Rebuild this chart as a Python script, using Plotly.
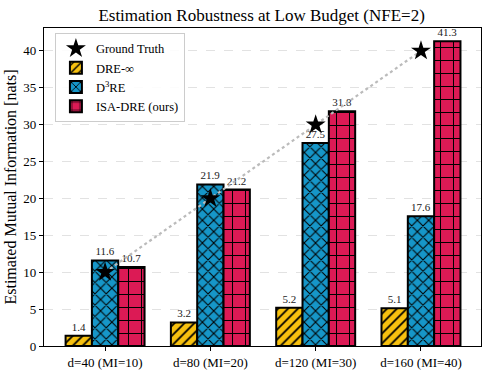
import plotly.graph_objects as go

categories = ["d=40 (MI=10)", "d=80 (MI=20)", "d=120 (MI=30)", "d=160 (MI=40)"]
ground_truth = [10, 20, 30, 40]
dre_inf = [1.4, 3.2, 5.2, 5.1]
d3re = [11.6, 21.9, 27.5, 17.6]
isa_dre = [10.7, 21.2, 31.8, 41.3]
y_ticks = [0, 5, 10, 15, 20, 25, 30, 35, 40]

FONT = "Liberation Serif"

x_idx = list(range(len(categories)))
offsets = [-0.25, 0.0, 0.25]

fig = go.Figure()

# dotted ground-truth connecting line
fig.add_trace(go.Scatter(
    x=x_idx, y=ground_truth, mode="lines",
    line=dict(color="#bbbbbb", width=2.2, dash="dot"),
    showlegend=False, hoverinfo="skip"))

series = [
    ("DRE-∞", dre_inf, "#f7c10f", "/", 7, 0.25),
    ("D<sup>3</sup>RE", d3re, "#1696c8", "x", 8, 0.25),
    ("ISA-DRE (ours)", isa_dre, "#dc1a55", "+", 13, 0.15),
]

for (name, vals, col, shp, psize, sol), off in zip(series, offsets):
    fig.add_trace(go.Bar(
        x=[i + off for i in x_idx], y=vals, name=name, width=0.25,
        marker=dict(color=col, line=dict(color="black", width=2),
                    pattern=dict(shape=shp, fgcolor="black", bgcolor=col,
                                 size=psize, solidity=sol, fillmode="replace")),
        text=[f"{v:.1f}" for v in vals], textposition="outside",
        textfont=dict(family=FONT, size=11, color="#222"),
        cliponaxis=False))

fig.add_trace(go.Scatter(
    x=x_idx, y=ground_truth, mode="markers", name="Ground Truth",
    marker=dict(symbol="star", size=15, color="black"),
    legendrank=1))

fig.update_layout(
    width=489, height=373,
    margin=dict(l=44, r=8, t=28, b=27),
    paper_bgcolor="white", plot_bgcolor="white",
    font=dict(family=FONT, size=12, color="black"),
    title=dict(text="Estimation Robustness at Low Budget (NFE=2)",
               x=0.535, xanchor="center", y=0.975, yanchor="top",
               font=dict(family=FONT, size=17, color="black")),
    barmode="overlay",
    showlegend=True,
    legend=dict(x=0.025, y=0.985, xanchor="left", yanchor="top",
                bgcolor="rgba(255,255,255,0.9)", bordercolor="#cccccc",
                borderwidth=1, font=dict(family=FONT, size=12.5),
                traceorder="normal", itemwidth=30, tracegroupgap=0),
    xaxis=dict(range=[-0.58, 3.57], tickmode="array", tickvals=x_idx,
               ticktext=categories, showgrid=False, showline=True,
               linecolor="black", linewidth=1.2, mirror=True,
               ticks="outside", ticklen=4, tickcolor="black",
               tickfont=dict(family=FONT, size=13), zeroline=False,
               automargin=False),
    yaxis=dict(range=[0, 43.1], tickmode="array", tickvals=y_ticks,
               showgrid=True, gridcolor="#e2e2e2", griddash="dash",
               gridwidth=0.7, showline=True, linecolor="black",
               linewidth=1.2, mirror=True, ticks="outside", ticklen=4,
               tickcolor="black", tickfont=dict(family=FONT, size=13),
               zeroline=False, automargin=False,
               title=dict(text="Estimated Mutual Information [nats]",
                          font=dict(family=FONT, size=16), standoff=2)),
)

fig.write_html("out.html", config={"displayModeBar": False},
               post_script="document.body.style.margin='0';document.body.style.padding='0';")
